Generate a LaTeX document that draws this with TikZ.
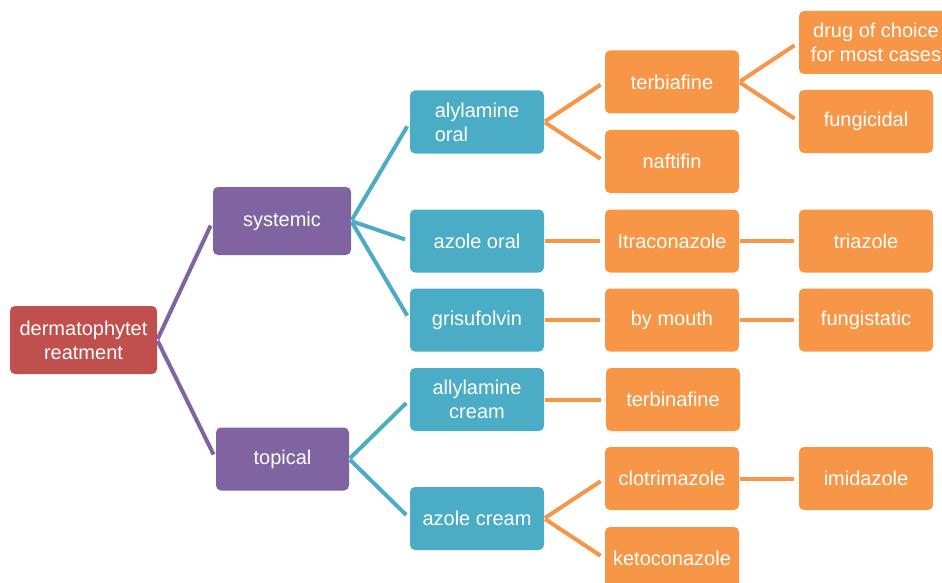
\documentclass[tikz,border=0pt]{standalone}
\usepackage{fontspec}
\setmainfont{Liberation Sans}
\definecolor{rootred}{HTML}{C0504D}
\definecolor{levelone}{HTML}{8064A2}
\definecolor{leveltwo}{HTML}{4BACC6}
\definecolor{levelthree}{HTML}{F79646}
\tikzset{
    box/.style={rectangle, rounded corners=5pt, text=white, align=center,
        font=\fontsize{20}{24}\selectfont, inner sep=2pt,
        minimum width=134pt, minimum height=63pt},
    link/.style={line width=4pt, shorten <=1pt, shorten >=5pt}
}
\begin{document}
\begin{tikzpicture}[x=1pt,y=-1pt]
    \useasboundingbox (0,0) rectangle (942,583);
    % root and first level
    \node[box, fill=rootred, minimum width=147pt, minimum height=68pt] (root) at (83.5,340) {dermatophytet\\reatment};
    \node[box, fill=levelone, minimum width=138pt, minimum height=68pt] (sys) at (282,221) {systemic};
    \node[box, fill=levelone, minimum width=133pt] (top) at (282.5,459) {topical};

    % second level
    \node[box, fill=leveltwo, align=left] (aloral) at (477,122) {alylamine\\oral};
    \node[box, fill=leveltwo] (azoral) at (477,241) {azole oral};
    \node[box, fill=leveltwo] (gris) at (477,320) {grisufolvin};
    \node[box, fill=leveltwo] (alcream) at (477,399.5) {allylamine\\cream};
    \node[box, fill=leveltwo] (azcream) at (477,518.5) {azole cream};

    % third level
    \node[box, fill=levelthree] (terbia) at (672,82) {terbiafine};
    \node[box, fill=levelthree] (nafti) at (672,161.5) {naftifin};
    \node[box, fill=levelthree] (itra) at (672,241) {Itraconazole};
    \node[box, fill=levelthree] (mouth) at (672,320) {by mouth};
    \node[box, fill=levelthree] (terbina) at (673,399.5) {terbinafine};
    \node[box, fill=levelthree] (clotri) at (672,478.5) {clotrimazole};
    \node[box, fill=levelthree] (keto) at (672,558.5) {ketoconazole};

    % fourth level
    \node[box, fill=levelthree, minimum width=154pt] (choice) at (876,42.5) {drug of choice\\for most cases};
    \node[box, fill=levelthree] (cidal) at (866,121.5) {fungicidal};
    \node[box, fill=levelthree] (triaz) at (866,241) {triazole};
    \node[box, fill=levelthree] (static) at (866,320) {fungistatic};
    \node[box, fill=levelthree] (imid) at (866,478.5) {imidazole};

    % connectors
    \foreach \a/\b in {root/sys, root/top}
        \draw[link, levelone] (\a.east) -- (\b.west);
    \foreach \a/\b in {sys/aloral, sys/azoral, sys/gris, top/alcream, top/azcream}
        \draw[link, leveltwo] (\a.east) -- (\b.west);
    \foreach \a/\b in {aloral/terbia, aloral/nafti, azoral/itra, gris/mouth, alcream/terbina,
        azcream/clotri, azcream/keto, terbia/choice, terbia/cidal, itra/triaz, mouth/static, clotri/imid}
        \draw[link, levelthree] (\a.east) -- (\b.west);
\end{tikzpicture}
\end{document}
